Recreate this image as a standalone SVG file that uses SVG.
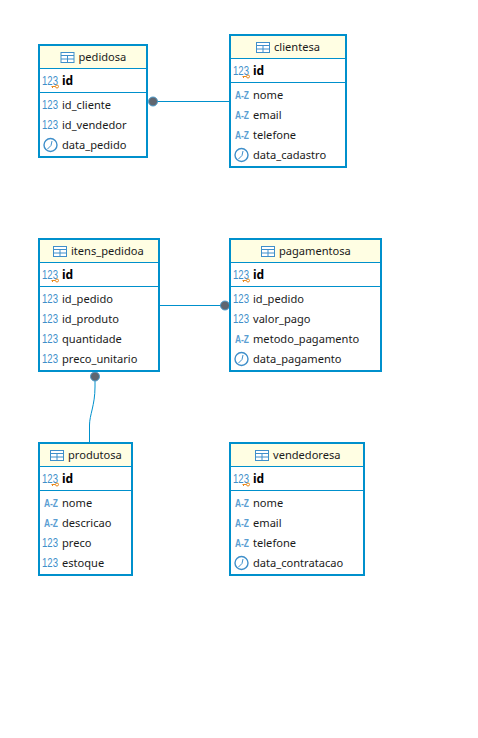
<svg xmlns="http://www.w3.org/2000/svg" width="478" height="738" viewBox="0 0 478 738">
<style>
text{font-family:"Noto Sans","Open Sans","Liberation Sans",sans-serif;font-size:11.1px;fill:#1a1a1a}
text.b{font-weight:700;fill:#000;font-size:12px}
.box{fill:#fff;stroke:#0090cc;stroke-width:2}
.hd{fill:#fffee3}
.sep{stroke:#0090cc;stroke-width:1;fill:none}
.c{stroke:#0090cc;stroke-width:1;fill:none}
.dot{fill:#5f6670;stroke:#4d9ccb;stroke-width:1}
text.ic{font-family:"Liberation Sans",sans-serif;font-size:12px;fill:#3f8fca}
text.az{font-family:"Liberation Sans",sans-serif;font-size:10px;font-weight:700;fill:#5a9ed2}
</style>
<defs>
<g id="tbl"><rect x="0.5" y="0.5" width="13" height="10" fill="#fff" stroke="#3f8fca"/><path d="M0.5 3.500H13.500M0.500 7H13.500M7 3.500V10.500" fill="none" stroke="#3f8fca"/></g>
<g id="n123"><text class="ic" x="0" y="4" textLength="16" lengthAdjust="spacingAndGlyphs">123</text></g>
<g id="key"><use href="#n123"/><path d="M9.500 5.500H13.500M10.500 5.500V7" stroke="#e8891c" fill="none"/><circle cx="15" cy="5.500" r="1.500" fill="#fff" stroke="#e8891c"/></g>
<g id="az"><text class="az" x="2" y="4" textLength="14" lengthAdjust="spacingAndGlyphs">A-Z</text></g>
<g id="clk"><circle cx="8.500" cy="0" r="6.500" fill="#fff" stroke="#3f8fca" stroke-width="1.400"/><path d="M10 -4L9 0.500L5.500 4" fill="none" stroke="#3f8fca"/></g>
</defs>
<g id="connectors">
<path class="c" d="M153 101.500H230"/>
<path class="c" d="M159 305.500H225"/>
<path class="c" d="M95 377V387C95 405 89.500 415 89.500 425V443"/>
<circle class="dot" cx="153" cy="101.500" r="4.500"/>
<circle class="dot" cx="225" cy="305.500" r="4.500"/>
<circle class="dot" cx="95" cy="376.500" r="4.500"/>
</g>
<g id="pedidosa" transform="translate(39,45)">
<rect class="box" width="108" height="112"/><rect class="hd" x="1" y="1" width="106" height="22"/>
<path class="sep" d="M0 23.500H108M0 47.500H108"/>
<use href="#tbl" x="21.500" y="7"/><text x="39.500" y="16">pedidosa</text>
<use href="#key" x="3" y="36"/><text class="b" x="23" y="40">id</text>
<use href="#n123" x="3" y="60"/><text x="23" y="64">id_cliente</text>
<use href="#n123" x="3" y="80"/><text x="23" y="84">id_vendedor</text>
<use href="#clk" x="3" y="100"/><text x="23" y="104">data_pedido</text>
</g>
<g id="clientesa" transform="translate(230,35)">
<rect class="box" width="116" height="132"/><rect class="hd" x="1" y="1" width="114" height="22"/>
<path class="sep" d="M0 23.500H116M0 47.500H116"/>
<use href="#tbl" x="26" y="7"/><text x="44" y="16">clientesa</text>
<use href="#key" x="3" y="36"/><text class="b" x="23" y="40">id</text>
<use href="#az" x="3" y="60"/><text x="23" y="64">nome</text>
<use href="#az" x="3" y="80"/><text x="23" y="84">email</text>
<use href="#az" x="3" y="100"/><text x="23" y="104">telefone</text>
<use href="#clk" x="3" y="120"/><text x="23" y="124">data_cadastro</text>
</g>
<g id="itens_pedidoa" transform="translate(39,239)">
<rect class="box" width="120" height="132"/><rect class="hd" x="1" y="1" width="118" height="22"/>
<path class="sep" d="M0 23.500H120M0 47.500H120"/>
<use href="#tbl" x="14" y="7"/><text x="32" y="16">itens_pedidoa</text>
<use href="#key" x="3" y="36"/><text class="b" x="23" y="40">id</text>
<use href="#n123" x="3" y="60"/><text x="23" y="64">id_pedido</text>
<use href="#n123" x="3" y="80"/><text x="23" y="84">id_produto</text>
<use href="#n123" x="3" y="100"/><text x="23" y="104">quantidade</text>
<use href="#n123" x="3" y="120"/><text x="23" y="124">preco_unitario</text>
</g>
<g id="pagamentosa" transform="translate(230,239)">
<rect class="box" width="151" height="132"/><rect class="hd" x="1" y="1" width="149" height="22"/>
<path class="sep" d="M0 23.500H151M0 47.500H151"/>
<use href="#tbl" x="31" y="7"/><text x="49" y="16">pagamentosa</text>
<use href="#key" x="3" y="36"/><text class="b" x="23" y="40">id</text>
<use href="#n123" x="3" y="60"/><text x="23" y="64">id_pedido</text>
<use href="#n123" x="3" y="80"/><text x="23" y="84">valor_pago</text>
<use href="#az" x="3" y="100"/><text x="23" y="104">metodo_pagamento</text>
<use href="#clk" x="3" y="120"/><text x="23" y="124">data_pagamento</text>
</g>
<g id="produtosa" transform="translate(39,443)">
<rect class="box" width="93" height="132"/><rect class="hd" x="1" y="1" width="91" height="22"/>
<path class="sep" d="M0 23.500H93M0 47.500H93"/>
<use href="#tbl" x="11" y="7"/><text x="29" y="16">produtosa</text>
<use href="#key" x="3" y="36"/><text class="b" x="23" y="40">id</text>
<use href="#az" x="3" y="60"/><text x="23" y="64">nome</text>
<use href="#az" x="3" y="80"/><text x="23" y="84">descricao</text>
<use href="#n123" x="3" y="100"/><text x="23" y="104">preco</text>
<use href="#n123" x="3" y="120"/><text x="23" y="124">estoque</text>
</g>
<g id="vendedoresa" transform="translate(230,443)">
<rect class="box" width="134" height="132"/><rect class="hd" x="1" y="1" width="132" height="22"/>
<path class="sep" d="M0 23.500H134M0 47.500H134"/>
<use href="#tbl" x="25" y="7"/><text x="43" y="16">vendedoresa</text>
<use href="#key" x="3" y="36"/><text class="b" x="23" y="40">id</text>
<use href="#az" x="3" y="60"/><text x="23" y="64">nome</text>
<use href="#az" x="3" y="80"/><text x="23" y="84">email</text>
<use href="#az" x="3" y="100"/><text x="23" y="104">telefone</text>
<use href="#clk" x="3" y="120"/><text x="23" y="124">data_contratacao</text>
</g>
</svg>
